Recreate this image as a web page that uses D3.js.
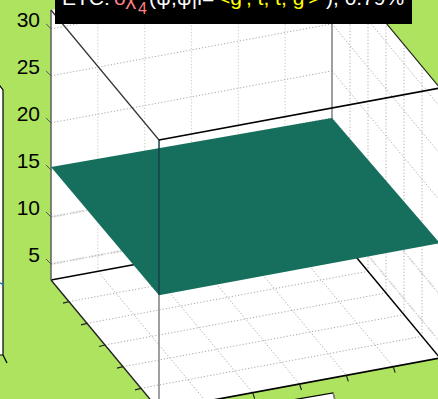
<!DOCTYPE html>
<html><head><meta charset="utf-8">
<script src="https://cdn.jsdelivr.net/npm/d3@7"></script>
<style>html,body{margin:0;padding:0;background:#aee35f;overflow:hidden}svg{display:block}text{font-family:"Liberation Sans",Arial,sans-serif}</style>
</head><body><svg id="c" width="438" height="399"></svg>
<script>
const zTicks=[5,10,15,20,25,30];
const xTicks=[1,2,3,4,5];
const yTicks=[1,2,3,4,5];
const zRange=[3.3,32];
const surfaceZ=[[15.3,15.0],[15.5,15.5]];
const titleParts=[
 {t:"ETC:",c:"#ffffff",x:62,y:5,s:21},{t:"δχ",c:"#ff8080",x:114,y:5,s:21},{t:"4",c:"#ff8080",x:138,y:14,s:16},
 {t:"(ψ,ψ|l=",c:"#ffffff",x:149,y:5,s:21},{t:"<g', t, t, g'>",c:"#ffff00",x:218,y:5,s:21},{t:"), 0.79%",c:"#ffffff",x:326,y:5,s:21}];
const W=438,H=399;
const svg=d3.select("#c");
const xPx=d3.scaleLinear([0,6],[0,108]), xPy=d3.scaleLinear([0,6],[0,130]);
const yPx=d3.scaleLinear([0,6],[0,281]), yPy=d3.scaleLinear([0,6],[0,-52]);
const zPy=d3.scaleLinear(zRange,[0,-270]);
const P=(x,y,z)=>[51+xPx(x)+yPx(y),280+xPy(x)+yPy(y)+zPy(z)];
const zb=zRange[0],zt=zRange[1];
const line=d3.line();
function seg(a,b,col,w,dash){return svg.append("path").attr("d",line([a,b])).attr("fill","none").attr("stroke",col).attr("stroke-width",w).attr("stroke-dasharray",dash||null);}
svg.append("path").attr("d",line([[-5,92],[0,86],[3,90],[3,355],[-5,355]])+"Z").attr("fill","#fff").attr("stroke","#000").attr("stroke-width",1.2);
seg([3,355],[7,363],"#000",1.2);
seg([0,283],[4,285],"#1a7f9c",1.5);
svg.append("path").attr("d",line([[292,400],[333,393],[335,400]])).attr("fill","#fff").attr("stroke","#000").attr("stroke-width",1.2);
seg([333,393],[335,400],"#888",1.5);
svg.append("path").attr("d",line([P(0,0,zb),P(0,0,zt),P(0,6,zt),P(6,6,zt),P(6,6,zb),P(6,0,zb)])+"Z").attr("fill","#fff");
const grid="#a8a8a8",d="1.2 2";
[5,10].forEach(z=>{seg(P(0,0,z),P(0,6,z),"#ededed",2.5,"14 6");seg(P(0,6,z),P(6,6,z),"#f0f0f0",2.5,"9 6");});
xTicks.forEach(x=>seg(P(x,0,zb),P(x,6,zb),grid,1,d));
yTicks.forEach(y=>seg(P(0,y,zb),P(6,y,zb),grid,1,d));
yTicks.forEach(y=>seg(P(0,y,zb),P(0,y,zt),"#d0d0d0",1.2,d));
xTicks.forEach(x=>seg(P(x,6,zb),P(x,6,zt),"#bcbcbc",1.2,d));
zTicks.forEach(z=>{seg(P(0,0,z),P(0,6,z),grid,1,d);seg(P(0,6,z),P(6,6,z),grid,1,d);});
seg(P(0,6,zb),P(0,6,zt),"#888",1.6);
seg(P(0,0,zb),P(0,6,zb),"#000",1.5);
seg(P(0,6,zb),P(6,6,zb),"#000",1.5);
seg(P(0,0,zb),P(0,0,zt),"#666",1.6);
svg.append("path").attr("fill","#156f5c").attr("d",line([P(0,0,surfaceZ[0][0]),P(0,6,surfaceZ[0][1]),P(6,6,surfaceZ[1][1]),P(6,0,surfaceZ[1][0])])+"Z");
seg(P(6,0,zb),P(6,0,surfaceZ[1][0]),"#888",1.6);
seg(P(6,0,surfaceZ[1][0]),P(6,0,zt),"#17404a",1.5);
seg(P(0,0,zt),P(6,0,zt),"#333",1.2);
seg(P(6,0,zt),P(6,6,zt),"#000",1.6);
seg(P(0,6,zt),P(6,6,zt),"#222",1.2);
seg(P(0,0,zb),P(6,0,zb),"#222",1.4);
seg(P(6,0,zb),P(6,6,zb),"#000",1.7);
xTicks.forEach(x=>{const p=P(x,0,zb);seg(p,[p[0]-6,p[1]+1.5],"#222",1.2);});
yTicks.forEach(y=>{const p=P(6,y,zb);seg(p,[p[0]+2,p[1]+6],"#222",1.2);});
zTicks.forEach(z=>{const p=P(0,0,z);seg(p,[p[0]-5,p[1]-5],"#555",1);
 svg.append("text").attr("x",40).attr("y",p[1]-2).attr("text-anchor","end").attr("font-size",21).attr("fill","#000").text(z);});
svg.append("rect").attr("x",55).attr("y",-2).attr("width",357).attr("height",26).attr("fill","#000");
titleParts.forEach(p=>svg.append("text").attr("x",p.x).attr("y",p.y).attr("font-size",p.s).attr("fill",p.c).text(p.t));
</script></body></html>
